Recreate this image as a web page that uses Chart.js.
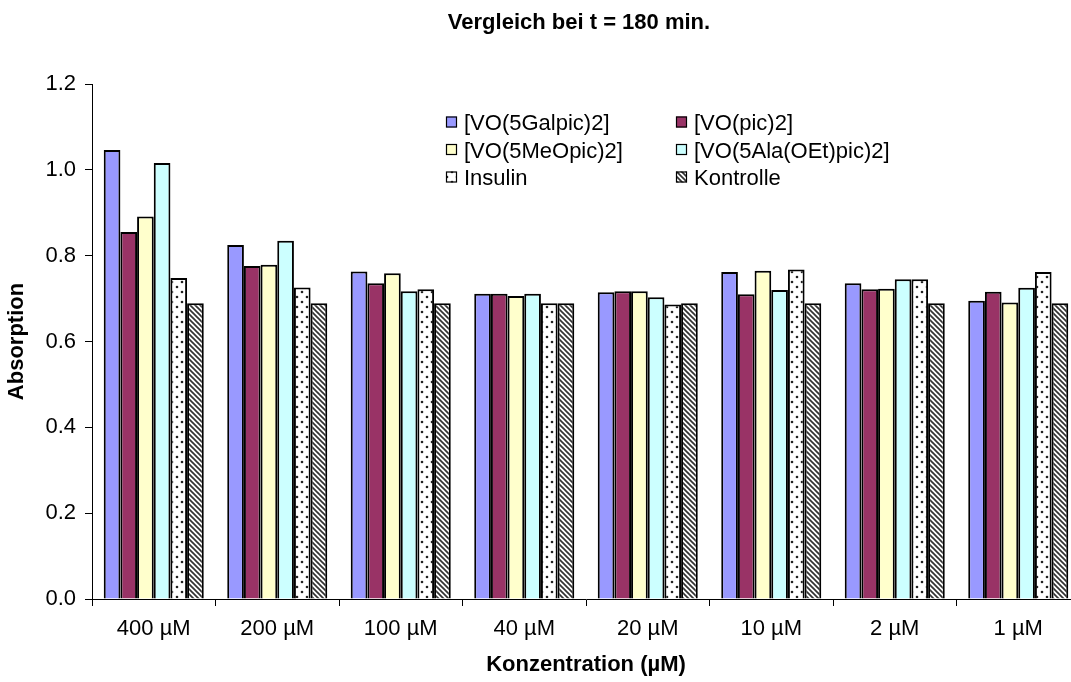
<!DOCTYPE html>
<html>
<head>
<meta charset="utf-8">
<script src="https://cdn.jsdelivr.net/npm/chart.js@4.4.0/dist/chart.umd.min.js"></script>
<style>
  html, body { margin: 0; padding: 0; background: #fff; overflow: hidden; }
  canvas { display: block; }
</style>
</head>
<body>
<canvas id="chart" width="1100" height="682"></canvas>
<script>
// Absorption at t = 180 min for each compound and concentration
const chartTitle = 'Vergleich bei t = 180 min.';
const categories = ['400 µM', '200 µM', '100 µM', '40 µM', '20 µM', '10 µM', '2 µM', '1 µM'];
const seriesNames = ['[VO(5Galpic)2]', '[VO(pic)2]', '[VO(5MeOpic)2]', '[VO(5Ala(OEt)pic)2]', 'Insulin', 'Kontrolle'];
const galpic    = [1.046, 0.825, 0.763, 0.711, 0.715, 0.762, 0.736, 0.695];
const pic       = [0.855, 0.776, 0.736, 0.711, 0.717, 0.710, 0.722, 0.716];
const meopic    = [0.891, 0.779, 0.759, 0.706, 0.717, 0.765, 0.723, 0.691];
const alapic    = [1.016, 0.835, 0.717, 0.711, 0.703, 0.720, 0.745, 0.725];
const insulin   = [0.748, 0.726, 0.722, 0.689, 0.686, 0.768, 0.745, 0.762];
const kontrolle = [0.689, 0.689, 0.689, 0.689, 0.689, 0.689, 0.689, 0.689];
const yTicks = [0, 0.2, 0.4, 0.6, 0.8, 1.0, 1.2];

const FONT = '"Liberation Sans", Arial, sans-serif';

// Dotted fill (Insulin)
function dotPattern() {
  const t = document.createElement('canvas');
  t.width = 10; t.height = 10;
  const g = t.getContext('2d');
  g.fillStyle = '#fff'; g.fillRect(0, 0, 10, 10);
  g.fillStyle = '#222';
  g.beginPath(); g.arc(2, 2, 1.3, 0, Math.PI * 2); g.fill();
  g.beginPath(); g.arc(7, 7, 1.3, 0, Math.PI * 2); g.fill();
  return g.createPattern(t, 'repeat');
}
// Diagonal hatch fill (Kontrolle)
function hatchPattern() {
  const s = 5;
  const t = document.createElement('canvas');
  t.width = s; t.height = s;
  const g = t.getContext('2d');
  g.fillStyle = '#fff'; g.fillRect(0, 0, s, s);
  g.strokeStyle = '#333'; g.lineWidth = 1.7;
  for (const k of [-s, 0, s]) {
    g.beginPath();
    g.moveTo(k - 1, -1);
    g.lineTo(k + s + 1, s + 1);
    g.stroke();
  }
  return g.createPattern(t, 'repeat');
}

const fills = ['#9999FF', '#993366', '#FFFFCC', '#CCFFFF', dotPattern(), hatchPattern()];
const values = [galpic, pic, meopic, alapic, insulin, kontrolle];

const datasets = values.map((v, i) => ({
  label: seriesNames[i],
  data: v,
  backgroundColor: fills[i],
  borderColor: '#000',
  borderWidth: 2,
  borderSkipped: 'start',
  categoryPercentage: 0.81,
  barPercentage: 1.0
}));

// Title and two-column legend
const overlay = {
  id: 'overlay',
  afterDraw(chart) {
    const ctx = chart.ctx;
    ctx.save();
    ctx.fillStyle = '#000';
    ctx.textBaseline = 'alphabetic';
    ctx.textAlign = 'center';
    ctx.font = 'bold 22px ' + FONT;
    ctx.fillText(chartTitle, 579, 29);

    ctx.textAlign = 'left';
    ctx.font = '22px ' + FONT;
    const colX = [446, 676];
    const rowY = 122, rowStep = 27.5, box = 11;
    chart.data.datasets.forEach((ds, i) => {
      const bx = colX[i % 2];
      const cy = rowY + Math.floor(i / 2) * rowStep;
      ctx.fillStyle = ds.backgroundColor;
      ctx.fillRect(bx, cy - box / 2, box, box);
      ctx.strokeStyle = '#000';
      ctx.lineWidth = 1.2;
      ctx.strokeRect(bx + 0.5, cy - box / 2 + 0.5, box - 1, box - 1);
      ctx.fillStyle = '#000';
      ctx.fillText(ds.label, bx + 18, cy + 8);
    });
    ctx.restore();
  }
};

new Chart(document.getElementById('chart'), {
  type: 'bar',
  data: { labels: categories, datasets },
  plugins: [overlay],
  options: {
    responsive: false,
    animation: false,
    layout: { padding: { top: 84, right: 20, left: 0, bottom: 0 } },
    plugins: { legend: { display: false }, title: { display: false }, tooltip: { enabled: false } },
    scales: {
      x: {
        afterFit(scale) { scale.height = 83; },
        grid: { display: true, drawOnChartArea: false, drawTicks: true, tickLength: 7, color: '#000', offset: true },
        border: { display: true, color: '#000', width: 1 },
        ticks: { color: '#000', font: { family: FONT, size: 22 }, padding: 10, maxRotation: 0, autoSkip: false },
        title: { display: true, text: 'Konzentration (µM)', color: '#000', font: { family: FONT, size: 22, weight: 'bold' }, padding: { top: 0, bottom: 4 } }
      },
      y: {
        min: 0, max: 1.2,
        afterFit(scale) { scale.width = 92; },
        afterBuildTicks(scale) { scale.ticks = yTicks.map(v => ({ value: v })); },
        grid: { display: true, drawOnChartArea: false, drawTicks: true, tickLength: 7, color: '#000' },
        border: { display: true, color: '#000', width: 1 },
        ticks: { color: '#000', font: { family: FONT, size: 22 }, padding: 9, callback: v => Number(v).toFixed(1) },
        title: { display: true, text: 'Absorption', color: '#000', font: { family: FONT, size: 22, weight: 'bold' }, padding: { top: 4, bottom: 0 } }
      }
    }
  }
});
</script>
</body>
</html>
